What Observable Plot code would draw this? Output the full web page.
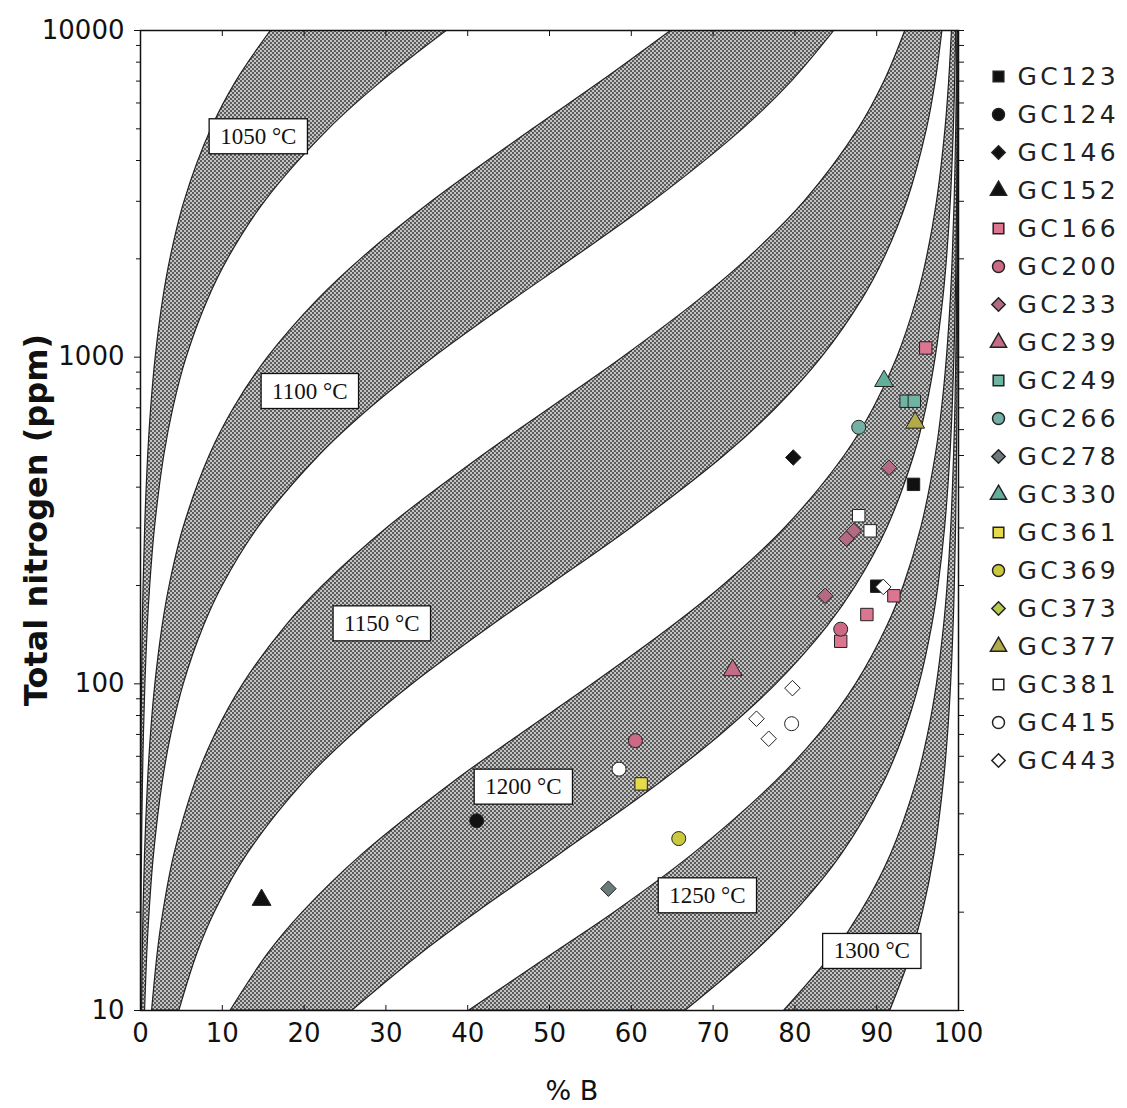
<!DOCTYPE html>
<html><head><meta charset="utf-8">
<script src="https://cdn.jsdelivr.net/npm/d3@7"></script>
<script src="https://cdn.jsdelivr.net/npm/@observablehq/plot@0.6"></script>
<style>
body{margin:0;background:#fff;width:1127px;height:1108px;overflow:hidden;position:relative;font-family:"DejaVu Sans",sans-serif}
#chart{position:absolute;left:0;top:0}
#legend{position:absolute;left:968px;top:0}
#legend text{letter-spacing:3.4px}
.title{position:absolute;white-space:nowrap;font-family:"DejaVu Sans",sans-serif;color:#111;transform:translate(-50%,-50%)}
#ytitle{left:36px;top:520px;font-size:32px;font-weight:bold;transform:translate(-50%,-50%) rotate(-90deg)}
#xtitle{left:572px;top:1090px;font-size:27px}
</style></head><body>
<div id="chart"></div><div id="legend"></div>
<div class="title" id="ytitle">Total nitrogen (ppm)</div>
<div class="title" id="xtitle">% B</div>
<script>
// ---- axis ticks
const xTicks = [0,10,20,30,40,50,60,70,80,90,100];
const yTicks = [10,100,1000,10000];
const yMinor = [20,30,40,50,60,70,80,90,200,300,400,500,600,700,800,900,2000,3000,4000,5000,6000,7000,8000,9000];

// ---- isotherm band edges: % B at each total-nitrogen level
const nLevels = [10,15,20,30,50,70,100,150,200,300,500,700,1000,1500,2000,3000,5000,7000,10000];
const b1050L = [0.02,0.03,0.04,0.06,0.1,0.13,0.19,0.28,0.38,0.57,0.94,1.31,1.86,2.77,3.66,5.39,8.68,11.74,15.97];
const b1050R = [0.06,0.09,0.12,0.18,0.3,0.42,0.6,0.89,1.19,1.77,2.91,4.03,5.66,8.26,10.71,15.25,23.08,29.58,37.5];
const b1100L = [0.19,0.28,0.37,0.55,0.92,1.28,1.82,2.7,3.57,5.26,8.47,11.46,15.61,21.72,27.01,35.69,48.05,56.43,64.91];
const b1100R = [0.56,0.83,1.11,1.65,2.72,3.77,5.3,7.75,10.07,14.38,21.88,28.16,35.9,45.65,52.83,62.69,73.68,79.67,84.85];
const b1150L = [1.42,2.11,2.8,4.14,6.72,9.16,12.59,17.76,22.36,30.17,41.86,50.2,59.02,68.35,74.23,81.2,87.8,90.97,93.51];
const b1150R = [4.76,6.98,9.09,13.04,20.0,25.93,33.33,42.86,50.0,60.0,71.43,77.78,83.33,88.24,90.91,93.75,96.15,97.22,98.04];
const b1200L = [11.03,15.68,19.87,27.11,38.27,46.47,55.36,65.03,71.26,78.81,86.11,89.67,92.54,94.9,96.12,97.38,98.41,98.86,99.2];
const b1200R = [25.93,34.43,41.18,51.22,63.64,71.01,77.78,84.0,87.5,91.3,94.59,96.08,97.22,98.13,98.59,99.06,99.43,99.59,99.72];
const b1250L = [40.2,50.6,58.0,67.5,77.6,83.0,87.5,91.3,93.33,95.45,97.22,98.0,98.59,99.06,99.29,99.53,99.72,99.8,99.86];
const b1250R = [66.67,75.0,80.0,85.71,90.91,93.33,95.24,96.77,97.56,98.36,99.01,99.29,99.5,99.67,99.75,99.83,99.9,99.93,99.95];
const b1300L = [78.72,84.73,88.1,91.74,94.87,96.28,97.37,98.23,98.67,99.11,99.46,99.62,99.73,99.82,99.87,99.91,99.95,99.96,99.97];
const b1300R = [91.67,94.29,95.65,97.06,98.21,98.72,99.1,99.4,99.55,99.7,99.82,99.87,99.91,99.94,99.95,99.97,99.98,99.99,99.99];

// ---- isotherm labels
const labelText = ["1050 °C","1100 °C","1150 °C","1200 °C","1250 °C","1300 °C"];
const labelX = [14.4,20.7,29.5,46.8,69.3,89.4];
const labelN = [4740,787,153,48.4,22.5,15.2];

// ---- samples: [% B, total N ppm]
const seriesNames = ["GC123","GC124","GC146","GC152","GC166","GC200","GC233","GC239","GC249","GC266","GC278","GC330","GC361","GC369","GC373","GC377","GC381","GC415","GC443"];
const seriesSymbols = ["square","circle","diamond2","triangle","square","circle","diamond2","triangle","square","circle","diamond2","triangle","square","circle","diamond2","triangle","square","circle","diamond2"];
const seriesFills = ["#111","#111","#111","#111","#dc7590","#cc6a85","#b56a84","#c46b86","#6fb3a3","#74b0a6","#6b7b7b","#63ad9b","#e6da4c","#c9c83e","#b7c84a","#b3aa4a","#fff","#fff","#fff"];
const GC123 = [[94.5,408],[90.0,199]];
const GC124 = [[41.1,38.1]];
const GC146 = [[79.8,493]];
const GC152 = [[14.8,21.8]];
const GC166 = [[96.0,1067],[88.8,163],[92.1,186],[85.6,135]];
const GC200 = [[85.6,147],[60.5,67]];
const GC233 = [[91.5,459],[87.2,294],[86.3,278],[83.7,186]];
const GC239 = [[72.4,110]];
const GC249 = [[93.6,733],[94.6,733]];
const GC266 = [[87.8,610]];
const GC278 = [[57.2,23.6]];
const GC330 = [[90.9,845]];
const GC361 = [[61.2,49.4]];
const GC369 = [[65.8,33.6]];
const GC373 = [];
const GC377 = [[94.7,630]];
const GC381 = [[87.8,327],[89.2,294]];
const GC415 = [[58.5,54.8],[79.6,75.5]];
const GC443 = [[75.3,78.2],[76.8,67.9],[79.7,97],[90.8,198]];
const seriesData = [GC123,GC124,GC146,GC152,GC166,GC200,GC233,GC239,GC249,GC266,GC278,GC330,GC361,GC369,GC373,GC377,GC381,GC415,GC443];

// ---- build tables
const bandEdges = [["1050",b1050L,b1050R],["1100",b1100L,b1100R],["1150",b1150L,b1150R],["1200",b1200L,b1200R],["1250",b1250L,b1250R],["1300",b1300L,b1300R]];
const bandRows = bandEdges.flatMap(([band, lo, hi]) => nLevels.map((n, i) => ({band, n, lo: lo[i], hi: hi[i]})));
const labelRows = labelText.map((t, i) => ({t, x: labelX[i], n: labelN[i]}));

const dotMarks = seriesData.map((pts, i) => Plot.dot(pts, {
  x: d => d[0], y: d => d[1], symbol: seriesSymbols[i], fill: seriesFills[i],
  stroke: "#222", strokeWidth: 1, r: 7
}));

const svg = Plot.plot({
  width: 1000, height: 1108,
  marginLeft: 140, marginRight: 42, marginTop: 30, marginBottom: 98,
  style: {fontFamily: "DejaVu Sans, sans-serif", fontSize: "26px", color: "#111", background: "white"},
  x: {domain: [0, 100]},
  y: {type: "log", domain: [10, 10000]},
  marks: [
    Plot.areaX(bandRows, {y: "n", x1: "lo", x2: "hi", z: "band", fill: "url(#stipple)", stroke: "#222", strokeWidth: 1.2, curve: "catmull-rom", clip: true}),
    ...dotMarks,
    Plot.text(labelRows, {x: "x", y: "n", text: "t", fontFamily: "Liberation Serif, serif", fontSize: 23, fill: "#111"}),
    Plot.frame({stroke: "#111", strokeWidth: 1.5}),
    Plot.axisY({ticks: yTicks, tickSize: 6, tickPadding: 10, tickFormat: d => String(d), fontSize: 26, label: null}),
    Plot.axisY({ticks: yMinor, tickSize: 4, tickFormat: () => "", label: null}),
    Plot.axisY({anchor: "right", ticks: yTicks.concat(yMinor), tickSize: 5, tickFormat: () => "", label: null}),
    Plot.axisX({ticks: xTicks, tickSize: -5, tickPadding: 18, tickFormat: d => String(d), fontSize: 26, label: null}),
    Plot.axisX({anchor: "top", ticks: xTicks, tickSize: -5, tickFormat: () => "", label: null})
  ]
});
document.getElementById("chart").append(svg);

// stipple pattern used by the isotherm bands
const defs = d3.select(svg).insert("defs", ":first-child");
const pat = defs.append("pattern").attr("id", "stipple").attr("patternUnits", "userSpaceOnUse").attr("width", 4).attr("height", 4);
pat.append("rect").attr("width", 4).attr("height", 4).attr("fill", "#c4c4c4");
pat.append("circle").attr("cx", 1).attr("cy", 1).attr("r", 0.9).attr("fill", "#2a2a2a");
pat.append("circle").attr("cx", 3).attr("cy", 3).attr("r", 0.9).attr("fill", "#2a2a2a");

// white boxes behind the isotherm labels
d3.select(svg).selectAll("text").filter(function() { return /°C$/.test(this.textContent); }).each(function() {
  const b = this.getBBox();
  const padX = 11, padY = 5;
  d3.select(this.parentNode).insert("rect", () => this)
    .attr("x", b.x - padX).attr("y", b.y - padY)
    .attr("width", b.width + 2 * padX).attr("height", b.height + 2 * padY)
    .attr("transform", this.getAttribute("transform"))
    .attr("fill", "white").attr("stroke", "#111").attr("stroke-width", 1.3);
});

// legend
const legend = Plot.plot({
  width: 159, height: 800, marginLeft: 0, marginRight: 0, marginTop: 0, marginBottom: 0,
  style: {fontFamily: "DejaVu Sans, sans-serif", background: "transparent"},
  y: {type: "point", domain: seriesNames, range: [70, 766], padding: 0, axis: null},
  marks: [
    ...seriesNames.map((s, i) => Plot.dot([s], {y: d => d, frameAnchor: "left", dx: 30, symbol: seriesSymbols[i], fill: seriesFills[i], stroke: "#222", r: 6})),
    Plot.text(seriesNames, {y: d => d, text: d => d, frameAnchor: "left", dx: 49, textAnchor: "start", fontSize: 25, fill: "#222"})
  ]
});
document.getElementById("legend").append(legend);
</script></body></html>
